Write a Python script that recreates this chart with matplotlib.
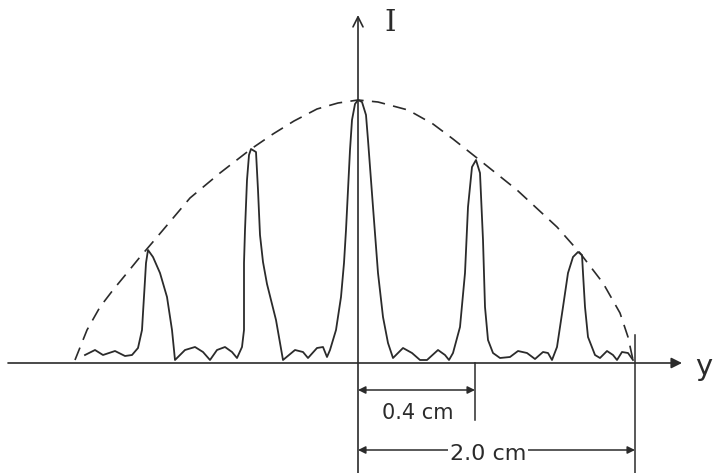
import matplotlib
matplotlib.use("Agg")
import matplotlib.pyplot as plt
import numpy as np

fringe_x = [-273, -263, -255, -243, -233, -226, -220, -216, -215, -213, -212, -210, -205, -198,
            -191, -186, -183, -173, -163, -155, -148, -141, -133, -126, -121, -116, -114, -114,
            -114, -113, -111, -109, -107, -102, -100, -98, -95, -91, -82, -75, -63, -55, -50,
            -41, -35, -31, -28, -22, -17, -14, -12, -10, -8, -6, -3, 0, 4, 8, 10, 15, 20, 25,
            30, 35, 45, 54, 62, 69, 80, 87, 91, 95, 102, 107, 110, 114, 118, 122, 125, 127, 130,
            135, 142, 152, 160, 169, 177, 185, 190, 194, 199, 205, 210, 215, 220, 224, 225, 227,
            230, 237, 242, 249, 255, 259, 264, 270, 275]
fringe_i = [8, 13, 8, 12, 7, 8, 15, 33, 50, 83, 100, 113, 106, 90, 66, 33, 3, 13, 16, 11, 3, 13,
            16, 11, 5, 16, 33, 66, 100, 133, 183, 208, 214, 211, 173, 128, 101, 79, 43, 3, 13,
            11, 5, 15, 16, 6, 13, 33, 66, 100, 133, 173, 213, 243, 259, 263, 261, 248, 223, 156,
            90, 46, 20, 5, 15, 10, 3, 3, 13, 8, 3, 10, 36, 90, 156, 196, 203, 190, 123, 56, 23,
            10, 5, 6, 12, 10, 4, 11, 10, 3, 16, 56, 90, 106, 111, 108, 90, 56, 26, 8, 5, 12, 8,
            3, 11, 10, 3]

env_x = [-283, -277, -271, -258, -245, -231, -218, -206, -195, -168, -138, -107, -85, -64, -41,
         -20, 0, 20, 50, 75, 95, 119, 159, 199, 222, 245, 262, 270, 275]
env_i = [3, 18, 33, 56, 73, 90, 106, 120, 133, 165, 190, 214, 229, 242, 254, 260, 263, 261,
         253, 239, 224, 205, 173, 136, 110, 80, 50, 26, 3]

peak_sep = 117       # 0.4 cm mark
env_half = 277       # 2.0 cm mark

ink = "#2b2b2b"

fig = plt.figure(figsize=(7.15, 4.73), dpi=100)
ax = fig.add_axes([0, 0, 1, 1])
ax.set_xlim(-358, 357)
ax.set_ylim(-110, 363)
ax.axis("off")

# envelope and fringes
ax.plot(env_x, env_i, color=ink, lw=1.2, ls=(0, (8, 5)))
ax.plot(fringe_x, fringe_i, color=ink, lw=1.3, solid_joinstyle="round")

# axes with arrows
ax.annotate("", xy=(324, 0), xytext=(-350, 0),
            arrowprops=dict(arrowstyle="-|>", color=ink, lw=1.2, mutation_scale=16,
                            shrinkA=0, shrinkB=0))
ax.annotate("", xy=(0, 348), xytext=(0, -112),
            arrowprops=dict(arrowstyle="->", color=ink, lw=1.2, mutation_scale=18,
                            shrinkA=0, shrinkB=0))
ax.text(32, 340, "I", fontsize=21, family="DejaVu Serif", color=ink, ha="center", va="center")
ax.text(346, -4, "y", fontsize=21, color=ink, ha="center", va="center")

# dimension lines
ax.plot([peak_sep, peak_sep], [0, -57], color=ink, lw=1.1)
ax.plot([env_half, env_half], [28, -112], color=ink, lw=1.1)
ax.annotate("", xy=(peak_sep, -27), xytext=(0, -27),
            arrowprops=dict(arrowstyle="<|-|>", color=ink, lw=1.1, mutation_scale=11,
                            shrinkA=0, shrinkB=0))
ax.annotate("", xy=(env_half, -87), xytext=(0, -87),
            arrowprops=dict(arrowstyle="<|-|>", color=ink, lw=1.1, mutation_scale=11,
                            shrinkA=0, shrinkB=0))
ax.text(60, -50, "0.4 cm", fontsize=15, color=ink, ha="center", va="center")
ax.text(130, -91, "2.0 cm", fontsize=16, color=ink, ha="center", va="center",
        bbox=dict(facecolor="white", edgecolor="none", pad=1))

fig.savefig("out.png", dpi=100)
